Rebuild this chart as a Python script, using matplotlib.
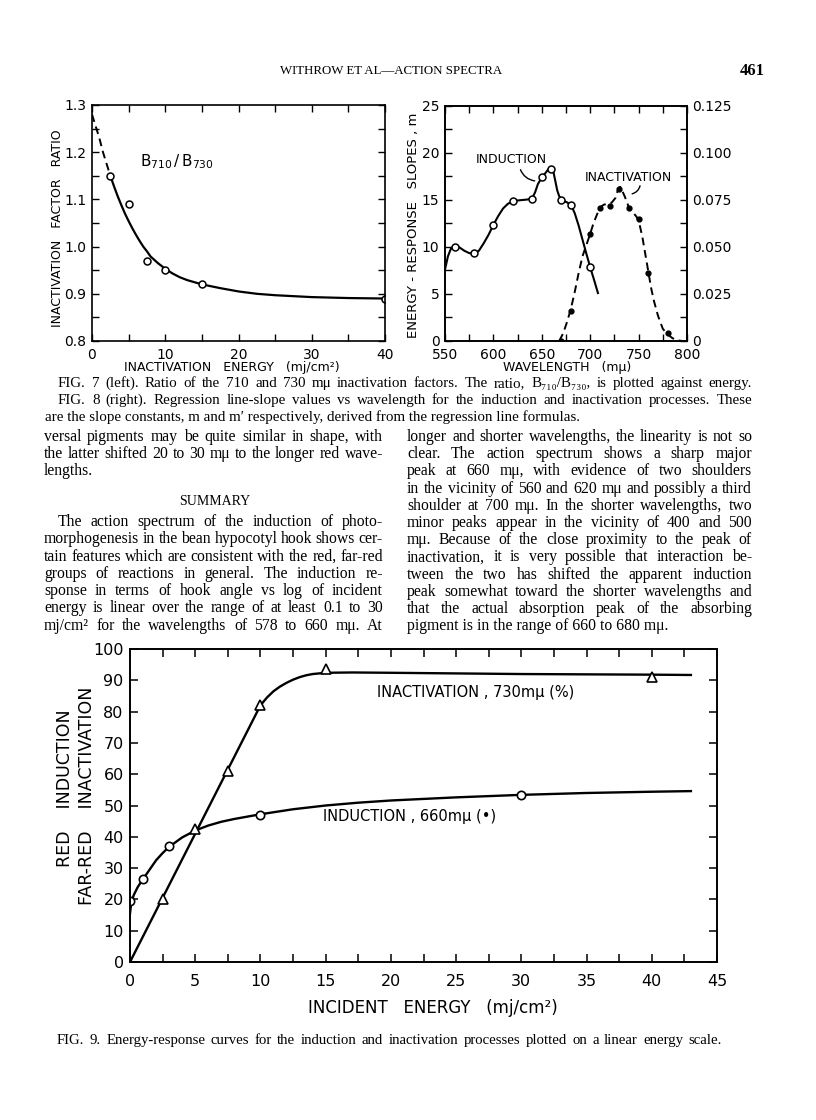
import matplotlib
matplotlib.use('Agg')
import matplotlib.pyplot as plt
from matplotlib.ticker import MultipleLocator, FixedLocator, FixedFormatter
from matplotlib.font_manager import FontProperties

W, H = 816, 1120

# ---------------- data: Fig. 7 ----------------
fig7_energy = [2.5, 5, 7.5, 10, 15, 40]
fig7_ratio = [1.15, 1.09, 0.97, 0.95, 0.92, 0.89]
fig7_dash_x = [0, 0.5, 1.0, 1.5, 2.0, 2.5]
fig7_dash_y = [1.28, 1.255, 1.23, 1.20, 1.175, 1.15]
fig7_fit_x = [2.5, 3, 3.5, 4, 4.5, 5, 5.5, 6, 6.5, 7, 7.5, 8, 9, 10, 11, 12, 13, 15,
              17.5, 20, 22.5, 25, 30, 35, 40]
fig7_fit_y = [1.15, 1.128, 1.107, 1.088, 1.07, 1.054, 1.039, 1.025, 1.012, 1.0, 0.99,
              0.979, 0.965, 0.953, 0.943, 0.935, 0.929, 0.92, 0.912, 0.905, 0.90, 0.897,
              0.893, 0.891, 0.89]

# ---------------- data: Fig. 8 ----------------
ind_wl = [560, 580, 600, 620, 640, 650, 660, 670, 680, 700]
ind_slope = [10.0, 9.35, 12.35, 14.85, 15.15, 17.4, 18.3, 15.05, 14.5, 7.85]
ind_curve_x = [550, 553, 556, 560, 565, 570, 575, 580, 585, 590, 595, 600, 605, 610,
               615, 620, 625, 630, 635, 640, 643, 646, 650, 654, 657, 660, 662, 664,
               666, 668, 670, 673, 676, 680, 684, 688, 692, 696, 700, 704, 708]
ind_curve_y = [7.6, 9.0, 9.8, 10.05, 9.95, 9.6, 9.35, 9.3, 9.6, 10.4, 11.3, 12.35,
               13.3, 14.1, 14.6, 14.85, 14.95, 15.0, 15.05, 15.2, 15.8, 16.7, 17.4,
               17.9, 18.3, 18.4, 18.0, 17.0, 16.0, 15.4, 15.1, 14.9, 14.75, 14.5, 13.6,
               12.3, 10.8, 9.3, 7.85, 6.5, 5.1]
inact_wl = [670, 680, 700, 710, 720, 730, 740, 750, 760, 780]
inact_slope = [0.0, 0.016, 0.057, 0.071, 0.072, 0.081, 0.0705, 0.065, 0.036, 0.004]
inact_curve_x = [668, 672, 676, 680, 684, 688, 692, 696, 700, 703, 706, 710, 714, 718,
                 722, 726, 729, 731, 733, 736, 740, 744, 748, 751, 754, 757, 760, 763,
                 766, 770, 775, 780, 785, 790, 795, 800]
inact_curve_y = [0.0, 0.004, 0.010, 0.017, 0.026, 0.036, 0.045, 0.051, 0.057, 0.062,
                 0.066, 0.071, 0.0725, 0.073, 0.0735, 0.076, 0.081, 0.082, 0.080,
                 0.0765, 0.071, 0.0685, 0.066, 0.062, 0.055, 0.046, 0.037, 0.028,
                 0.021, 0.0135, 0.0065, 0.0035, 0.0015, 0.0004, 0.0, 0.0]

# ---------------- data: Fig. 9 ----------------
f9_inact_e = [2.5, 5, 7.5, 10, 15, 40]
f9_inact_v = [20, 42.5, 61, 82, 93.5, 91]
f9_ind_e = [0, 1, 3, 10, 30]
f9_ind_v = [19.5, 26.5, 37, 47, 53.5]
f9_inact_curve_x = [0, 2.5, 5, 7.5, 10, 10.5, 11, 11.5, 12, 12.5, 13, 13.5, 14, 14.5,
                    15, 17, 20, 25, 30, 35, 40, 43]
f9_inact_curve_y = [0, 20.5, 41, 61.5, 82, 84.5, 86.5, 88, 89.2, 90.2, 91, 91.6, 92,
                    92.2, 92.4, 92.5, 92.4, 92.2, 92.0, 91.9, 91.8, 91.7]
f9_ind_curve_x = [0, 0.1, 0.3, 0.6, 1.0, 1.5, 2.0, 2.5, 3.0, 4.0, 5.0, 6.0, 7.0, 8.0,
                  10.0, 12.5, 15, 17.5, 20, 25, 30, 35, 40, 43]
f9_ind_curve_y = [15.5, 19, 21.5, 24, 26.5, 29.5, 32.5, 34.8, 36.8, 39.8, 42.0, 43.6,
                  44.8, 45.7, 47.2, 48.8, 50.0, 50.9, 51.6, 52.6, 53.4, 54.0, 54.4, 54.6]

fig7_yticks = [0.8, 0.9, 1.0, 1.1, 1.2, 1.3]
fig7_ylabels = ['0.8', '0.9', '1.0', '1.1', '1.2', '1.3']
fig8_right_ticks = [0, 0.025, 0.050, 0.075, 0.100, 0.125]
fig8_right_labels = ['0', '0.025', '0.050', '0.075', '0.100', '0.125']

# ---------------- text ----------------
header = 'WITHROW ET AL—ACTION SPECTRA'
page_no = '461'
cap78 = [
    ('FIG. 7 (left).  Ratio of the 710 and 730 mμ inactivation factors.  The ratio, B₇₁₀/B₇₃₀, is plotted against energy.', 58, True),
    ('FIG. 8 (right).  Regression line-slope values vs wavelength for the induction and inactivation processes.  These', 58, True),
    ('are the slope constants, m and m′ respectively, derived from the regression line formulas.', 45, False),
]
left_col = [
    ('versal pigments may be quite similar in shape, with', 44, True),
    ('the latter shifted 20 to 30 mμ to the longer red wave-', 44, True),
    ('lengths.', 44, False),
]
left_col2 = [
    ('The action spectrum of the induction of photo-', 58, True),
    ('morphogenesis in the bean hypocotyl hook shows cer-', 44, True),
    ('tain features which are consistent with the red, far-red', 44, True),
    ('groups of reactions in general.  The induction re-', 44, True),
    ('sponse in terms of hook angle vs log of incident', 44, True),
    ('energy is linear over the range of at least 0.1 to 30', 44, True),
    ('mj/cm² for the wavelengths of 578 to 660 mμ.  At', 44, True),
]
right_col = [
    'longer and shorter wavelengths, the linearity is not so',
    'clear.  The action spectrum shows a sharp major',
    'peak at 660 mμ, with evidence of two shoulders',
    'in the vicinity of 560 and 620 mμ and possibly a third',
    'shoulder at 700 mμ.  In the shorter wavelengths, two',
    'minor peaks appear in the vicinity of 400 and 500',
    'mμ.  Because of the close proximity to the peak of',
    'inactivation, it is very possible that interaction be-',
    'tween the two has shifted the apparent induction',
    'peak somewhat toward the shorter wavelengths and',
    'that the actual absorption peak of the absorbing',
    'pigment is in the range of 660 to 680 mμ.',
]
cap9 = 'FIG. 9.  Energy-response curves for the induction and inactivation processes plotted on a linear energy scale.'

# ---------------- figure ----------------
plt.rcParams['font.family'] = ['DejaVu Sans']
fig = plt.figure(figsize=(W / 100, H / 100), dpi=100)
fig.patch.set_facecolor('white')
SERIF = ['Liberation Serif', 'DejaVu Serif']
renderer = fig.canvas.get_renderer()


def rect(x0, y0, x1, y1):
    return [x0 / W, 1 - y1 / H, (x1 - x0) / W, (y1 - y0) / H]


def ftext(x, y, s, **kw):
    return fig.text(x / W, 1 - y / H, s, **kw)


def line_text(s, x0, x1, y, size, justify):
    base = y + 4
    words = s.split()
    while True:
        fp = FontProperties(family=SERIF, size=size)
        widths = [renderer.get_text_width_height_descent(w, fp, ismath=False)[0]
                  for w in words]
        em = size * 100 / 72
        natural = sum(widths) + (len(words) - 1) * 0.22 * em
        if natural <= (x1 - x0) or size < 6:
            break
        size *= 0.98
    if not justify:
        ftext(x0, base, s, fontproperties=fp, ha='left', va='baseline')
        return
    gap = (x1 - x0 - sum(widths)) / (len(words) - 1)
    x = x0
    for w, wd in zip(words, widths):
        ftext(x, base, w, fontproperties=fp, ha='left', va='baseline')
        x += wd + gap


def style_axes(ax, lw=1.2):
    for sp in ax.spines.values():
        sp.set_linewidth(lw)
    ax.tick_params(which='both', direction='in', top=True, right=True, width=1.0)
    ax.tick_params(which='major', length=5)
    ax.tick_params(which='minor', length=5)


# ---- Fig 7 ----
ax7 = fig.add_axes(rect(92, 105, 385, 341))
ax7.plot(fig7_dash_x, fig7_dash_y, color='black', lw=1.4, ls=(0, (4, 2.5)))
ax7.plot(fig7_fit_x, fig7_fit_y, color='black', lw=1.6)
ax7.plot(fig7_energy, fig7_ratio, 'o', mfc='white', mec='black', mew=1.1, ms=5)
ax7.set_xlim(0, 40)
ax7.set_ylim(0.8, 1.3)
ax7.xaxis.set_major_locator(MultipleLocator(10))
ax7.xaxis.set_minor_locator(MultipleLocator(5))
ax7.yaxis.set_major_locator(FixedLocator(fig7_yticks))
ax7.yaxis.set_major_formatter(FixedFormatter(fig7_ylabels))
ax7.yaxis.set_minor_locator(MultipleLocator(0.05))
style_axes(ax7)
ax7.tick_params(labelsize=10, pad=4)
ax7.tick_params(axis='x', pad=5)
ax7.text(6.6, 1.18, r'$\mathregular{B_{710}\,/\,B_{730}}$', fontsize=11, ha='left', va='center')

ftext(58, 228, 'INACTIVATION   FACTOR   RATIO', rotation=90, ha='center', va='center', fontsize=9)
ftext(232, 367, 'INACTIVATION   ENERGY   (mj/cm²)', ha='center', va='center', fontsize=9)

# ---- Fig 8 ----
ax8 = fig.add_axes(rect(445, 106, 687, 341))
ax8.plot(ind_curve_x, ind_curve_y, color='black', lw=1.5)
ax8.plot(ind_wl, ind_slope, 'o', mfc='white', mec='black', mew=1.1, ms=5)
ax8.set_xlim(550, 800)
ax8.set_ylim(0, 25)
ax8.xaxis.set_major_locator(MultipleLocator(50))
ax8.xaxis.set_minor_locator(MultipleLocator(25))
ax8.yaxis.set_major_locator(MultipleLocator(5))
ax8.yaxis.set_minor_locator(MultipleLocator(2.5))
style_axes(ax8)
ax8.tick_params(axis='y', which='both', right=False)
ax8.tick_params(labelsize=10, pad=4)
ax8.tick_params(axis='x', pad=5)
ax8r = ax8.twinx()
ax8r.plot(inact_curve_x, inact_curve_y, color='black', lw=1.4, ls=(0, (4, 2.5)))
ax8r.plot(inact_wl, inact_slope, 'o', color='black', ms=3.5)
ax8r.set_ylim(0, 0.125)
ax8r.yaxis.set_major_locator(FixedLocator(fig8_right_ticks))
ax8r.yaxis.set_major_formatter(FixedFormatter(fig8_right_labels))
ax8r.yaxis.set_minor_locator(MultipleLocator(0.0125))
for sp in ax8r.spines.values():
    sp.set_linewidth(1.2)
ax8r.tick_params(which='both', direction='in', length=5, width=1.0, labelsize=10, pad=4)

ax8.text(619, 19.3, 'INDUCTION', fontsize=9, ha='center', va='center')
ax8.annotate('', xy=(645.5, 17.0), xytext=(627, 18.5),
             arrowprops=dict(arrowstyle='-', lw=1.0, color='black',
                             connectionstyle='arc3,rad=0.35'))
ax8.text(739, 17.4, 'INACTIVATION', fontsize=9, ha='center', va='center')
ax8.annotate('', xy=(740.5, 15.6), xytext=(752, 16.8),
             arrowprops=dict(arrowstyle='-', lw=1.0, color='black',
                             connectionstyle='arc3,rad=-0.4'))

ftext(414, 225, 'ENERGY - RESPONSE   SLOPES , m', rotation=90, ha='center', va='center', fontsize=9.5)
ftext(567, 368, 'WAVELENGTH   (mμ)', ha='center', va='center', fontsize=9)

# ---- Fig 9 ----
ax9 = fig.add_axes(rect(130, 649, 717, 962))
ax9.plot(f9_inact_curve_x, f9_inact_curve_y, color='black', lw=1.7)
ax9.plot(f9_ind_curve_x, f9_ind_curve_y, color='black', lw=1.7)
ax9.plot(f9_inact_e, f9_inact_v, '^', mfc='white', mec='black', mew=1.2, ms=6.5)
ax9.plot(f9_ind_e, f9_ind_v, 'o', mfc='white', mec='black', mew=1.2, ms=6)
ax9.set_xlim(0, 45)
ax9.set_ylim(0, 100)
ax9.xaxis.set_major_locator(MultipleLocator(5))
ax9.xaxis.set_minor_locator(MultipleLocator(2.5))
ax9.yaxis.set_major_locator(MultipleLocator(10))
for sp in ax9.spines.values():
    sp.set_linewidth(1.4)
ax9.tick_params(which='both', direction='in', top=True, right=True, width=1.1)
ax9.tick_params(which='major', length=6, labelsize=11.5)
ax9.tick_params(axis='x', pad=9)
ax9.tick_params(axis='y', pad=4.5)
ax9.tick_params(which='minor', length=6)
ax9.text(26.5, 86.0, 'INACTIVATION , 730mμ (%)', fontsize=10.5, ha='center', va='center')
ax9.text(21.4, 46.6, 'INDUCTION , 660mμ (•)', fontsize=10.5, ha='center', va='center')

ftext(65, 788, 'RED    INDUCTION', rotation=90, ha='center', va='center', fontsize=12.5)
ftext(87, 796, 'FAR-RED    INACTIVATION', rotation=90, ha='center', va='center', fontsize=12.5)
ftext(433, 1008, 'INCIDENT   ENERGY   (mj/cm²)', ha='center', va='center', fontsize=12)

# ---------------- page text ----------------
ftext(391, 71, header, ha='center', va='center', fontsize=9.3, family=SERIF)
ftext(765, 71, page_no, ha='right', va='center', fontsize=12, family=SERIF, fontweight='bold')

for i, (s, x0, just) in enumerate(cap78):
    line_text(s, x0, 752, 383 + 17 * i, 10.8, just)

for i, (s, x0, just) in enumerate(left_col):
    line_text(s, x0, 383, 437 + 17.2 * i, 11.3, just)
ftext(215, 501, 'SUMMARY', ha='center', va='center', fontsize=10, family=SERIF)
for i, (s, x0, just) in enumerate(left_col2):
    line_text(s, x0, 383, 522 + 17.28 * i, 11.3, just)
for i, s in enumerate(right_col):
    line_text(s, 407, 752, 437 + 17.2 * i, 11.3, i != len(right_col) - 1)

line_text(cap9, 57, 722, 1040, 10.6, True)

fig.savefig('out.png', dpi=100, facecolor='white')
